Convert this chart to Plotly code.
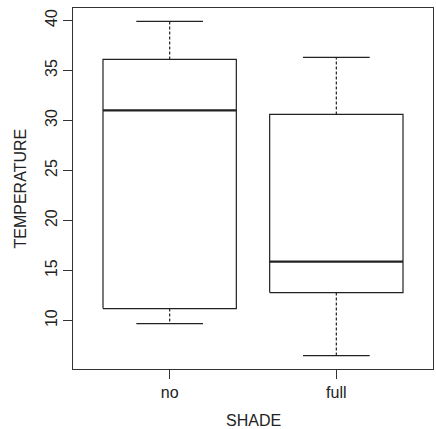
import plotly.graph_objects as go

categories = ["no", "full"]
positions = [1, 2]
upper_whisker = [39.9, 36.3]
q3 = [36.1, 30.6]
median = [31.0, 15.9]
q1 = [11.2, 12.8]
lower_whisker = [9.7, 6.5]
y_ticks = [10, 15, 20, 25, 30, 35, 40]

BOX_HALF = 0.4
CAP_HALF = 0.2
INK = "#222222"
FONT = "Liberation Sans, Arial, Helvetica, sans-serif"
FS = 16

fig = go.Figure()

box_x, box_y = [], []
med_x, med_y = [], []
wh_x, wh_y = [], []
cap_x, cap_y = [], []
for p, lo, a, m, b, hi in zip(positions, lower_whisker, q1, median, q3, upper_whisker):
    box_x += [p - BOX_HALF, p + BOX_HALF, p + BOX_HALF, p - BOX_HALF, p - BOX_HALF, None]
    box_y += [a, a, b, b, a, None]
    med_x += [p - BOX_HALF, p + BOX_HALF, None]
    med_y += [m, m, None]
    wh_x += [p, p, None, p, p, None]
    wh_y += [b, hi, None, a, lo, None]
    cap_x += [p - CAP_HALF, p + CAP_HALF, None, p - CAP_HALF, p + CAP_HALF, None]
    cap_y += [hi, hi, None, lo, lo, None]

fig.add_trace(go.Scatter(x=wh_x, y=wh_y, mode="lines",
                         line=dict(color=INK, width=1.2, dash="3px,2px"),
                         hoverinfo="skip", showlegend=False))
fig.add_trace(go.Scatter(x=cap_x, y=cap_y, mode="lines",
                         line=dict(color=INK, width=1.2),
                         hoverinfo="skip", showlegend=False))
fig.add_trace(go.Scatter(x=box_x, y=box_y, mode="lines",
                         line=dict(color=INK, width=1.2),
                         hoverinfo="skip", showlegend=False))
fig.add_trace(go.Scatter(x=med_x, y=med_y, mode="lines",
                         line=dict(color=INK, width=2.2),
                         hoverinfo="skip", showlegend=False))

axis_common = dict(showgrid=False, zeroline=False, showline=True, mirror=True,
                   linecolor="#333333", linewidth=1.2, ticks="outside",
                   ticklen=9, tickwidth=1.2, tickcolor="#333333",
                   tickfont=dict(family=FONT, size=FS, color=INK))

fig.update_layout(
    width=436, height=429,
    margin=dict(l=73, r=3, t=8, b=60),
    paper_bgcolor="white", plot_bgcolor="white",
    font=dict(family=FONT, size=FS, color=INK),
    xaxis=dict(range=[0.42, 2.58], tickvals=positions, ticktext=categories, **axis_common),
    yaxis=dict(range=[5.164, 41.236], tickvals=y_ticks, tickangle=-90, **axis_common),
    annotations=[
        dict(text="SHADE", xref="paper", yref="paper", x=0.5, y=0, yshift=-51,
             xanchor="center", yanchor="middle", showarrow=False,
             font=dict(family=FONT, size=FS, color=INK)),
        dict(text="TEMPERATURE", xref="paper", yref="paper", x=0, y=0.5, xshift=-53,
             xanchor="center", yanchor="middle", textangle=-90, showarrow=False,
             font=dict(family=FONT, size=FS, color=INK)),
    ],
)

fig.write_html("out.html")
